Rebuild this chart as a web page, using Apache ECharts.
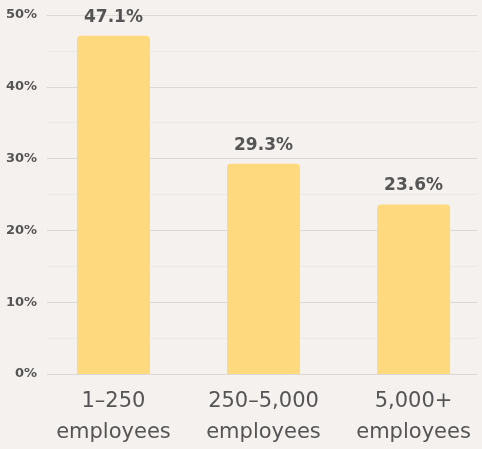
<!DOCTYPE html>
<html>
<head>
<meta charset="utf-8">
<script src="https://cdn.jsdelivr.net/npm/echarts@6/dist/echarts.min.js"></script>
<style>
  html, body { margin: 0; padding: 0; background: #f4f1ee; }
  #chart { width: 482px; height: 449px; }
</style>
</head>
<body>
<div id="chart"></div>
<script>
// Company size buckets and share of respondents (%)
const categories = ['1–250\nemployees', '250–5,000\nemployees', '5,000+\nemployees'];
const shares = [47.1, 29.3, 23.6];
const yTicks = [0, 10, 20, 30, 40, 50];

const positions = categories.map((_, i) => i);
const barData = shares.map((v, i) => [positions[i], v]);

const chart = echarts.init(document.getElementById('chart'), null, { renderer: 'canvas' });
chart.setOption({
  backgroundColor: '#f4f1ee',
  animation: false,
  grid: { left: 47, right: 5, top: 15, bottom: 75, containLabel: false },
  xAxis: {
    type: 'value',
    min: -0.443,
    max: 2.423,
    splitLine: { show: false },
    axisLine: { show: false },
    axisTick: { show: false },
    axisLabel: {
      customValues: positions,
      formatter: v => categories[Math.round(v)],
      color: '#555555',
      fontFamily: 'DejaVu Sans',
      fontSize: 21,
      lineHeight: 31,
      margin: 12
    }
  },
  yAxis: {
    type: 'value',
    min: yTicks[0],
    max: yTicks[yTicks.length - 1],
    interval: 10,
    axisLine: { show: false },
    axisTick: { show: false },
    axisLabel: {
      formatter: '{value}%',
      color: '#555555',
      fontFamily: 'DejaVu Sans',
      fontWeight: 'bold',
      fontSize: 13,
      margin: 10
    },
    splitLine: { show: true, lineStyle: { color: '#dcd9d6', width: 1 } },
    minorTick: { show: false, splitNumber: 2 },
    minorSplitLine: { show: true, lineStyle: { color: '#ebe8e5', width: 1 } }
  },
  series: [{
    type: 'bar',
    data: barData,
    barWidth: 73,
    itemStyle: { color: '#fed97d', borderRadius: [4, 4, 0, 0] },
    label: {
      show: true,
      position: 'top',
      distance: 10,
      formatter: p => p.value[1].toFixed(1) + '%',
      color: '#555555',
      fontFamily: 'DejaVu Sans',
      fontWeight: 'bold',
      fontSize: 17
    }
  }]
});
</script>
</body>
</html>
